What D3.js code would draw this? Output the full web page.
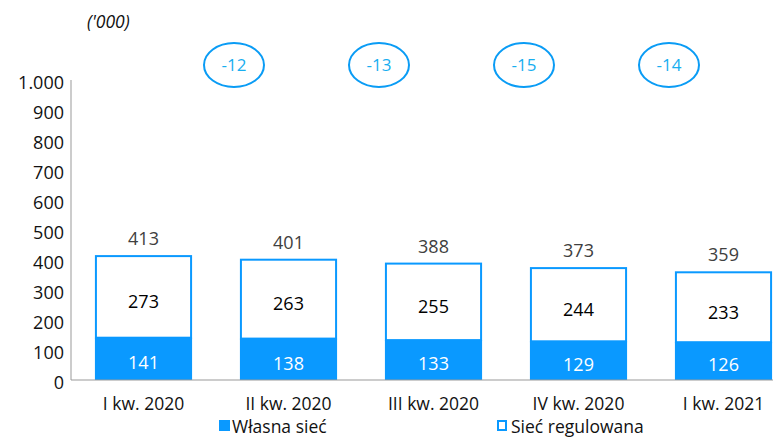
<!DOCTYPE html>
<html>
<head>
<meta charset="utf-8">
<script src="https://cdn.jsdelivr.net/npm/d3@7"></script>
<style>
  body { margin: 0; background: #fff; }
  text { font-family: "Open Sans", "Noto Sans", sans-serif; }
</style>
</head>
<body>
<div id="chart"></div>
<script>
const quarters = ["I kw. 2020", "II kw. 2020", "III kw. 2020", "IV kw. 2020", "I kw. 2021"];
const own = [141, 138, 133, 129, 126];
const regulated = [273, 263, 255, 244, 233];
const totals = [413, 401, 388, 373, 359];
const changes = [-12, -13, -15, -14];
const yTicks = [0, 100, 200, 300, 400, 500, 600, 700, 800, 900, 1000];

const width = 773, height = 437;
const blue = "#0a99ff";

const svg = d3.select("#chart")
  .append("svg")
  .attr("width", width)
  .attr("height", height);

const x = d3.scaleBand()
  .domain(quarters)
  .range([71, 796])
  .paddingInner(0.33)
  .paddingOuter(0.165);

const y = d3.scaleLinear()
  .domain([0, 1000])
  .range([380, 80]);

const fmt = d3.formatLocale({ decimal: ",", thousands: ".", grouping: [3], currency: ["", ""] }).format(",");

// y axis
svg.append("line")
  .attr("x1", 71).attr("x2", 71)
  .attr("y1", y(1000)).attr("y2", y(0))
  .attr("stroke", "#999").attr("stroke-width", 1);

svg.append("g")
  .selectAll("text")
  .data(yTicks)
  .join("text")
  .attr("x", 64)
  .attr("y", d => y(d) + 3)
  .attr("dy", "0.35em")
  .attr("text-anchor", "end")
  .attr("font-size", 18)
  .attr("fill", "#111")
  .text(d => fmt(d));

svg.append("text")
  .attr("x", 87).attr("y", 28)
  .attr("font-size", 17.5)
  .attr("font-style", "italic")
  .attr("fill", "#111")
  .text("('000)");

// bars
const g = svg.append("g");
g.selectAll("rect.reg")
  .data(quarters)
  .join("rect")
  .attr("class", "reg")
  .attr("x", d => x(d) + 1)
  .attr("width", x.bandwidth() - 2)
  .attr("y", (d, i) => y(totals[i]))
  .attr("height", (d, i) => y(own[i]) - y(totals[i]))
  .attr("fill", "#fff")
  .attr("stroke", blue)
  .attr("stroke-width", 2);

g.selectAll("rect.own")
  .data(quarters)
  .join("rect")
  .attr("class", "own")
  .attr("x", d => x(d))
  .attr("width", x.bandwidth())
  .attr("y", (d, i) => y(own[i]))
  .attr("height", (d, i) => y(0) - y(own[i]))
  .attr("fill", blue);

// x axis line
svg.append("line")
  .attr("x1", 71).attr("x2", width)
  .attr("y1", y(0)).attr("y2", y(0))
  .attr("stroke", "#999").attr("stroke-width", 1);

// labels
const cx = d => x(d) + x.bandwidth() / 2;

g.selectAll("text.tot")
  .data(quarters)
  .join("text")
  .attr("x", cx)
  .attr("y", (d, i) => y(totals[i]) - 11)
  .attr("text-anchor", "middle")
  .attr("font-size", 18)
  .attr("fill", "#404040")
  .text((d, i) => totals[i]);

g.selectAll("text.regl")
  .data(quarters)
  .join("text")
  .attr("x", cx)
  .attr("y", (d, i) => (y(totals[i]) + y(own[i])) / 2 + 5)
  .attr("dy", "0.35em")
  .attr("text-anchor", "middle")
  .attr("font-size", 18)
  .attr("fill", "#000")
  .text((d, i) => regulated[i]);

g.selectAll("text.ownl")
  .data(quarters)
  .join("text")
  .attr("x", cx)
  .attr("y", (d, i) => (y(own[i]) + y(0)) / 2 + 4)
  .attr("dy", "0.35em")
  .attr("text-anchor", "middle")
  .attr("font-size", 18)
  .attr("fill", "#fff")
  .text((d, i) => own[i]);

g.selectAll("text.cat")
  .data(quarters)
  .join("text")
  .attr("x", cx)
  .attr("y", 410)
  .attr("text-anchor", "middle")
  .attr("font-size", 17.5)
  .attr("fill", "#111")
  .text(d => d);

// change bubbles
const bubble = svg.append("g")
  .selectAll("g")
  .data(changes)
  .join("g")
  .attr("transform", (d, i) => `translate(${(cx(quarters[i]) + cx(quarters[i + 1])) / 2 + 18},65)`);

bubble.append("ellipse")
  .attr("rx", 30).attr("ry", 22)
  .attr("fill", "#fff")
  .attr("stroke", "#0a9cf5")
  .attr("stroke-width", 2);

bubble.append("text")
  .attr("text-anchor", "middle")
  .attr("dy", "0.35em")
  .attr("font-size", 17)
  .attr("fill", "#18aef0")
  .text(d => d);

// legend
const legend = svg.append("g");
legend.append("rect")
  .attr("x", 219).attr("y", 420).attr("width", 11).attr("height", 11)
  .attr("fill", blue);
legend.append("text")
  .attr("x", 232).attr("y", 433)
  .attr("font-size", 17.5).attr("fill", "#111")
  .text("Własna sieć");
legend.append("rect")
  .attr("x", 498).attr("y", 421).attr("width", 8).attr("height", 9)
  .attr("fill", "#fff").attr("stroke", blue).attr("stroke-width", 2);
legend.append("text")
  .attr("x", 511).attr("y", 433)
  .attr("font-size", 17.5).attr("fill", "#111")
  .text("Sieć regulowana");
</script>
</body>
</html>
